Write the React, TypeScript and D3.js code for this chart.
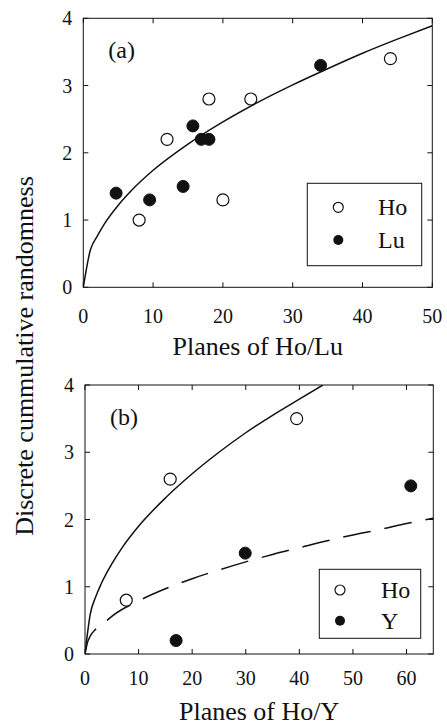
import React from "react";
import * as d3 from "d3";

// Panel (a)
const hoAX = [8, 12, 18, 20, 24, 44];
const hoAY = [1.0, 2.2, 2.8, 1.3, 2.8, 3.4];
const luAX = [4.7, 9.5, 14.3, 15.7, 16.9, 18.0, 34.0];
const luAY = [1.4, 1.3, 1.5, 2.4, 2.2, 2.2, 3.3];
const fitAX = [0, 1, 2, 3, 5, 7, 10, 15, 20, 25, 30, 35, 40, 45, 50];
const fitAY = [0, 0.55, 0.76, 0.94, 1.22, 1.45, 1.74, 2.13, 2.46, 2.75, 3.01, 3.25, 3.48, 3.69, 3.89];

// Panel (b)
const hoBX = [7.7, 15.9, 39.5];
const hoBY = [0.8, 2.6, 3.5];
const yBX = [17, 29.9, 60.8];
const yBY = [0.2, 1.5, 2.5];
const fitHoBX = [0, 1, 2, 3, 5, 7, 10, 15, 20, 25, 30, 35, 40, 44.4];
const fitHoBY = [0, 0.6, 0.85, 1.04, 1.34, 1.59, 1.9, 2.32, 2.68, 3.0, 3.29, 3.55, 3.79, 4.0];
const fitYBX = [0, 0.5, 1, 2, 3.7, 5, 10, 15, 20, 25, 30, 35, 40, 45, 50, 55, 60, 65];
const fitYBY = [0, 0.18, 0.27, 0.37, 0.47, 0.56, 0.79, 0.97, 1.12, 1.25, 1.37, 1.48, 1.58, 1.68, 1.77, 1.85, 1.94, 2.02];

const xTicksA = [0, 10, 20, 30, 40, 50];
const xTicksB = [0, 10, 20, 30, 40, 50, 60];
const yTicks = [0, 1, 2, 3, 4];

const FONT = "Liberation Serif, Times New Roman, serif";
const INK = "#111";
const fs = (size: number) => ({ fontFamily: FONT, fontSize: size + "px" });

type Series = { xs: number[]; ys: number[] };

function Panel(props: {
  left: number; right: number; top: number; bottom: number;
  xMax: number; xTicks: number[]; label: string; xTitle: string;
  tickBaseline: number; titleBaseline: number;
  open: Series; filled: Series; openName: string; filledName: string;
  curves: { s: Series; dash?: string }[];
  legend: { x0: number; y0: number; x1: number; y1: number; cx: number; tx: number; r1: number; r2: number };
  labelY: number;
}) {
  const p = props;
  const x = d3.scaleLinear().domain([0, p.xMax]).range([p.left, p.right]);
  const y = d3.scaleLinear().domain([0, 4]).range([p.bottom, p.top]);
  const line = d3.line<[number, number]>().x(d => x(d[0])).y(d => y(d[1])).curve(d3.curveMonotoneX);
  const tl = 5;
  const r = 6;
  const clipId = "clip" + p.label.replace(/\W/g, "");
  return (
    <g>
      <defs>
        <clipPath id={clipId}>
          <rect x={p.left} y={p.top} width={p.right - p.left} height={p.bottom - p.top} />
        </clipPath>
      </defs>
      <rect x={p.left} y={p.top} width={p.right - p.left} height={p.bottom - p.top} fill="none" stroke={INK} strokeWidth={1} />
      {p.xTicks.map(t => (
        <g key={"xt" + t}>
          <line x1={x(t)} x2={x(t)} y1={p.bottom} y2={p.bottom - tl} stroke={INK} />
          <line x1={x(t)} x2={x(t)} y1={p.top} y2={p.top + tl} stroke={INK} />
          <text x={x(t)} y={p.tickBaseline} style={fs(20)} textAnchor="middle" fill={INK}>{t}</text>
        </g>
      ))}
      {yTicks.map(t => (
        <g key={"yt" + t}>
          <line x1={p.left} x2={p.left + tl} y1={y(t)} y2={y(t)} stroke={INK} />
          <line x1={p.right} x2={p.right - tl} y1={y(t)} y2={y(t)} stroke={INK} />
          <text x={p.left - 11} y={y(t) + 7} style={fs(20)} textAnchor="end" fill={INK}>{t}</text>
        </g>
      ))}
      <g clipPath={`url(#${clipId})`}>
        {p.curves.map((c, i) => (
          <path key={i} d={line(c.s.xs.map((v, j) => [v, c.s.ys[j]] as [number, number])) || ""}
            fill="none" stroke={INK} strokeWidth={1.5} strokeDasharray={c.dash} />
        ))}
      </g>
      {p.open.xs.map((v, i) => (
        <circle key={"o" + i} cx={x(v)} cy={y(p.open.ys[i])} r={r} fill="#fff" stroke={INK} strokeWidth={1.2} />
      ))}
      {p.filled.xs.map((v, i) => (
        <circle key={"f" + i} cx={x(v)} cy={y(p.filled.ys[i])} r={r} fill={INK} stroke={INK} strokeWidth={1} />
      ))}
      <text x={p.left + 25} y={p.labelY} style={fs(24)} fill={INK}>{p.label}</text>
      <rect x={p.legend.x0} y={p.legend.y0} width={p.legend.x1 - p.legend.x0} height={p.legend.y1 - p.legend.y0}
        fill="#fff" stroke={INK} strokeWidth={1} />
      <circle cx={p.legend.cx} cy={p.legend.r1} r={r - 1} fill="#fff" stroke={INK} strokeWidth={1.2} />
      <circle cx={p.legend.cx} cy={p.legend.r2} r={r - 1} fill={INK} />
      <text x={p.legend.tx} y={p.legend.r1 + 8} style={fs(24)} fill={INK}>{p.openName}</text>
      <text x={p.legend.tx} y={p.legend.r2 + 8} style={fs(24)} fill={INK}>{p.filledName}</text>
      <text x={(p.left + p.right) / 2} y={p.titleBaseline} style={fs(26)} textAnchor="middle" fill={INK}>{p.xTitle}</text>
    </g>
  );
}

export default function App() {
  return (
    <svg width={447} height={725} style={{ position: "absolute", left: 0, top: 0, background: "#fff" }}>
      <rect width={447} height={725} fill="#fff" />
      <Panel left={83.3} right={432.3} top={18.3} bottom={287.3} xMax={50} xTicks={xTicksA}
        label="(a)" xTitle="Planes of Ho/Lu" tickBaseline={323} titleBaseline={355}
        open={{ xs: hoAX, ys: hoAY }} filled={{ xs: luAX, ys: luAY }} openName="Ho" filledName="Lu"
        curves={[{ s: { xs: fitAX, ys: fitAY } }]}
        legend={{ x0: 307.3, y0: 183.3, x1: 421.7, y1: 265.7, cx: 338.3, tx: 378, r1: 207.3, r2: 240 }}
        labelY={58} />
      <Panel left={85} right={433.3} top={385} bottom={654} xMax={65} xTicks={xTicksB}
        label="(b)" xTitle="Planes of Ho/Y" tickBaseline={685} titleBaseline={720}
        open={{ xs: hoBX, ys: hoBY }} filled={{ xs: yBX, ys: yBY }} openName="Ho" filledName="Y"
        curves={[{ s: { xs: fitHoBX, ys: fitHoBY } }, { s: { xs: fitYBX, ys: fitYBY }, dash: "28 14" }]}
        legend={{ x0: 319.3, y0: 569.3, x1: 420.7, y1: 638.3, cx: 340, tx: 381, r1: 590, r2: 620.7 }}
        labelY={425} />
      <text transform="translate(33,356) rotate(-90)" style={fs(26)} textAnchor="middle" fill={INK}>
        Discrete cummulative randomness
      </text>
    </svg>
  );
}
